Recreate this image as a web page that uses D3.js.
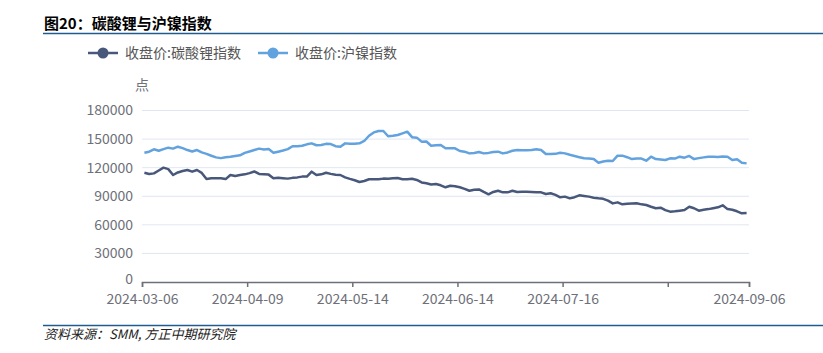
<!DOCTYPE html>
<html>
<head>
<meta charset="utf-8">
<script src="https://cdn.jsdelivr.net/npm/d3@7"></script>
<style>
  body { margin: 0; background: #fff; }
  text { font-family: "Noto Sans CJK SC", "Noto Sans", sans-serif; }
</style>
</head>
<body>
<div id="chart"></div>
<script>
const dates = [
  "2024-03-06","2024-03-07","2024-03-08","2024-03-11","2024-03-12","2024-03-13","2024-03-14","2024-03-15","2024-03-18","2024-03-19",
  "2024-03-20","2024-03-21","2024-03-22","2024-03-25","2024-03-26","2024-03-27","2024-03-28","2024-03-29","2024-04-01","2024-04-02",
  "2024-04-03","2024-04-08","2024-04-09","2024-04-10","2024-04-11","2024-04-12","2024-04-15","2024-04-16","2024-04-17","2024-04-18",
  "2024-04-19","2024-04-22","2024-04-23","2024-04-24","2024-04-25","2024-04-26","2024-04-29","2024-04-30","2024-05-06","2024-05-07",
  "2024-05-08","2024-05-09","2024-05-10","2024-05-13","2024-05-14","2024-05-15","2024-05-16","2024-05-17","2024-05-20","2024-05-21",
  "2024-05-22","2024-05-23","2024-05-24","2024-05-27","2024-05-28","2024-05-29","2024-05-30","2024-05-31","2024-06-03","2024-06-04",
  "2024-06-05","2024-06-06","2024-06-07","2024-06-11","2024-06-12","2024-06-13","2024-06-14","2024-06-17","2024-06-18","2024-06-19",
  "2024-06-20","2024-06-21","2024-06-24","2024-06-25","2024-06-26","2024-06-27","2024-06-28","2024-07-01","2024-07-02","2024-07-03",
  "2024-07-04","2024-07-05","2024-07-08","2024-07-09","2024-07-10","2024-07-11","2024-07-12","2024-07-15","2024-07-16","2024-07-17",
  "2024-07-18","2024-07-19","2024-07-22","2024-07-23","2024-07-24","2024-07-25","2024-07-26","2024-07-29","2024-07-30","2024-07-31",
  "2024-08-01","2024-08-02","2024-08-05","2024-08-06","2024-08-07","2024-08-08","2024-08-09","2024-08-12","2024-08-13","2024-08-14",
  "2024-08-15","2024-08-16","2024-08-19","2024-08-20","2024-08-21","2024-08-22","2024-08-23","2024-08-26","2024-08-27","2024-08-28",
  "2024-08-29","2024-08-30","2024-09-02","2024-09-03","2024-09-04","2024-09-05","2024-09-06"
];

// 收盘价:碳酸锂指数
const lithium = [
  114700,113400,114000,117000,120000,118500,112300,115000,116500,117500,
  115800,117500,114500,108000,108800,108800,108800,108000,112300,111200,
  112300,113000,114300,116000,113400,113000,112700,109000,109500,109000,
  108500,109300,109800,110600,110600,115800,112300,113000,114700,113500,
  112500,112300,109800,108200,106800,105000,106000,107800,107800,107800,
  108500,108300,108800,109100,107800,107800,108300,107100,104500,103600,
  102300,102800,101500,99400,101000,100500,99400,97800,95800,96800,
  97200,94500,92000,94500,95800,94100,94100,95800,94500,94800,
  94800,94500,94300,94100,92400,93100,91500,88900,89600,87800,
  89000,91000,90300,89600,88500,87800,87300,85400,82500,83600,
  81500,82200,82400,82600,81500,80800,79000,77400,78000,75500,
  73800,74200,74800,75500,79000,77400,74800,75800,76500,77400,
  78400,80500,76500,75800,74200,72100,72300
];

// 收盘价:沪镍指数
const nickel = [
  135700,136800,139300,137800,139500,141000,140000,142000,140500,138500,
  137000,138500,136000,134500,132500,130800,130000,131000,131500,132300,
  133000,135500,137000,138500,140000,139000,139500,135700,136800,138000,
  139500,142500,142500,143000,144500,145500,143500,143800,145000,144800,
  142500,142000,145500,145000,145200,145500,148000,153500,157000,158500,
  158500,153000,153500,154300,156000,157800,152000,151500,147300,147500,
  143000,143500,143800,140300,140500,140300,137500,136800,135000,135500,
  136400,135000,135500,136500,136800,135000,136000,137800,138600,138300,
  138200,138500,139300,138600,134300,134300,134500,135700,135000,133500,
  132300,131000,129800,129500,129000,125200,126500,127300,127000,132600,
  132600,131000,129000,129500,129500,127300,131500,129000,128500,128000,
  129800,129500,131500,130500,132300,129000,130000,130800,131500,131500,
  131200,131800,131500,128000,128800,125200,124500
];

const seriesNames = ["收盘价:碳酸锂指数", "收盘价:沪镍指数"];
const seriesColors = ["#48587a", "#62a2de"];
const yTicks = [0, 30000, 60000, 90000, 120000, 150000, 180000];
const xTickIdx = [0, 22, 44, 66, 88, 110, 127];
const xTickLabels = ["2024-03-06", "2024-04-09", "2024-05-14", "2024-06-14", "2024-07-16", "", "2024-09-06"];

const W = 823, H = 353;
const plot = { left: 142, right: 749, top: 110.5, bottom: 282 };

const svg = d3.select("#chart").append("svg")
    .attr("width", W)
    .attr("height", H);

// title + rules
svg.append("text")
    .attr("x", 44)
    .attr("y", 29)
    .style("font-size", "15px")
    .style("font-weight", "bold")
    .style("fill", "#000")
    .text("图20：碳酸锂与沪镍指数");

svg.append("line")
    .attr("x1", 43).attr("x2", W)
    .attr("y1", 33.5).attr("y2", 33.5)
    .attr("stroke", "#1f5b8e")
    .attr("stroke-width", 1.5);

svg.append("line")
    .attr("x1", 43).attr("x2", W)
    .attr("y1", 325.5).attr("y2", 325.5)
    .attr("stroke", "#1f5b8e")
    .attr("stroke-width", 1.5);

svg.append("text")
    .attr("x", 44)
    .attr("y", 339)
    .style("font-size", "13px")
    .style("font-style", "italic")
    .style("fill", "#222")
    .text("资料来源：SMM, 方正中期研究院");

// scales
const x = d3.scaleLinear()
    .domain([0, dates.length])
    .range([plot.left, plot.right]);

const y = d3.scaleLinear()
    .domain([0, 180000])
    .range([plot.bottom, plot.top]);

// grid
svg.append("g")
    .selectAll("line")
    .data(yTicks.filter(d => d > 0))
    .enter().append("line")
    .attr("x1", plot.left).attr("x2", plot.right)
    .attr("y1", d => y(d)).attr("y2", d => y(d))
    .attr("stroke", "#e0e6f1")
    .attr("stroke-width", 1);

// y axis labels
const yAxisGroup = svg.append("g")
    .attr("transform", `translate(${plot.left},0)`)
    .call(d3.axisLeft(y).tickValues(yTicks).tickSize(0).tickPadding(9).tickFormat(d3.format("d")));

yAxisGroup.select(".domain").remove();
yAxisGroup.selectAll("text")
    .style("font-size", "14px")
    .style("fill", "#6e7079")
    .style("font-family", "'Noto Sans CJK SC', 'Noto Sans', sans-serif");

// the zero label sits a little high so it clears the date labels
yAxisGroup.selectAll(".tick")
    .filter(d => d === 0)
    .select("text")
    .attr("dy", "0.1em");

svg.append("text")
    .attr("x", plot.left)
    .attr("y", 90)
    .attr("text-anchor", "middle")
    .style("font-size", "14px")
    .style("fill", "#6e7079")
    .text("点");

// x axis
const xAxisGroup = svg.append("g")
    .attr("transform", `translate(0,${plot.bottom})`)
    .call(d3.axisBottom(x).tickValues(xTickIdx).tickSize(5).tickPadding(7)
        .tickFormat((d, i) => xTickLabels[i]));

xAxisGroup.select(".domain").attr("stroke", "#6e7079").attr("stroke-width", 1.5);
xAxisGroup.selectAll("line").attr("stroke", "#6e7079").attr("stroke-width", 1.5);
xAxisGroup.selectAll("text")
    .style("font-size", "14px")
    .style("fill", "#6e7079")
    .style("font-family", "'Noto Sans CJK SC', 'Noto Sans', sans-serif");

// lines
const line = d3.line()
    .x((d, i) => x(i + 0.5))
    .y(d => y(d));

[lithium, nickel].forEach((values, k) => {
    svg.append("path")
        .datum(values)
        .attr("fill", "none")
        .attr("stroke", seriesColors[k])
        .attr("stroke-width", 2.5)
        .attr("stroke-linejoin", "round")
        .attr("d", line);
});

// legend
const legendX = [88, 258];
const legend = svg.selectAll(".legend")
    .data(seriesNames)
    .enter().append("g")
    .attr("class", "legend")
    .attr("transform", (d, i) => `translate(${legendX[i]},53)`);

legend.append("line")
    .attr("x1", 0).attr("x2", 30)
    .attr("stroke", (d, i) => seriesColors[i])
    .attr("stroke-width", 2.5);

legend.append("circle")
    .attr("cx", 15)
    .attr("r", 5.5)
    .attr("fill", (d, i) => seriesColors[i]);

legend.append("text")
    .attr("x", 37)
    .attr("dy", "0.35em")
    .style("font-size", "14px")
    .style("fill", "#555")
    .text(d => d);
</script>
</body>
</html>
